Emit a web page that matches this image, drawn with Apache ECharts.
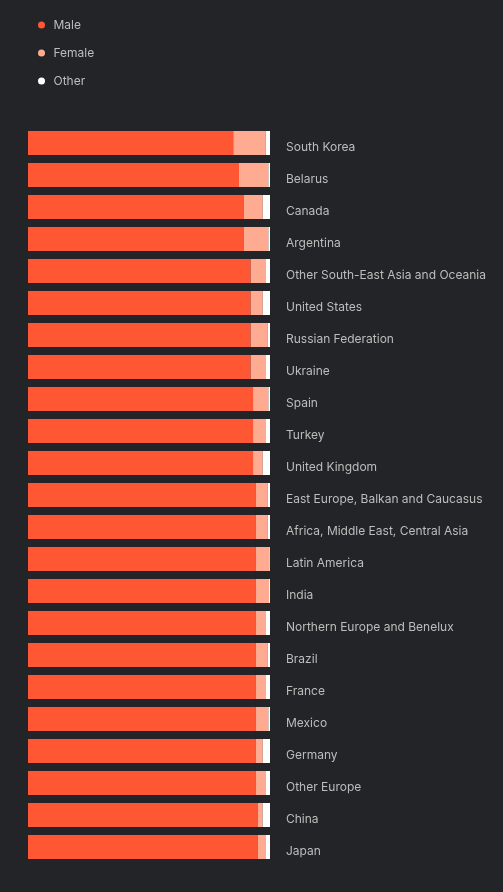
<!DOCTYPE html>
<html>
<head>
<meta charset="utf-8">
<script src="https://cdn.jsdelivr.net/npm/echarts@6/dist/echarts.min.js"></script>
<style>
html,body{margin:0;padding:0;background:#232427;}
#chart{width:503px;height:892px;}
</style>
</head>
<body>
<div id="chart"></div>
<script>
var categories = ["South Korea","Belarus","Canada","Argentina","Other South-East Asia and Oceania","United States","Russian Federation","Ukraine","Spain","Turkey","United Kingdom","East Europe, Balkan and Caucasus","Africa, Middle East, Central Asia","Latin America","India","Northern Europe and Benelux","Brazil","France","Mexico","Germany","Other Europe","China","Japan"];
var male   = [84.8,87.2,89.1,89.1,92.0,92.0,92.0,92.0,93.0,93.0,93.0,94.1,94.1,94.1,94.1,94.1,94.1,94.1,94.1,94.1,94.1,95.0,95.0];
var female = [13.4,12.1,7.9,10.2,6.1,5.0,7.0,6.1,6.3,5.1,4.0,4.9,4.9,5.6,5.5,4.0,4.9,4.0,5.2,2.9,4.0,2.0,3.1];
var other  = [1.8,0.7,3.0,0.7,1.9,3.0,1.0,1.9,0.7,1.9,3.0,1.0,1.0,0.3,0.4,1.9,1.0,1.9,0.7,3.0,1.9,3.0,1.9];

var chart = echarts.init(document.getElementById('chart'));
var font = 'Inter, "Noto Sans", sans-serif';
chart.setOption({
  backgroundColor: '#232427',
  animation: false,
  legend: {
    orient: 'vertical',
    left: 33,
    top: 14,
    itemWidth: 14,
    itemHeight: 7,
    itemGap: 16,
    icon: 'circle',
    textStyle: {color: '#bdbdbd', fontSize: 12, fontFamily: font},
    data: ['Male','Female','Other']
  },
  grid: {left: 28, right: 233, top: 127, height: 736},
  xAxis: {
    type: 'value', min: 0, max: 100, show: false
  },
  yAxis: {
    type: 'category',
    data: categories,
    inverse: true,
    position: 'right',
    axisLine: {show: false},
    axisTick: {show: false},
    axisLabel: {
      color: '#bdbdbd', fontSize: 12, margin: 16, fontFamily: font,
      formatter: function (v) { return '{a|' + v + '}'; },
      rich: {a: {color: '#bdbdbd', fontSize: 12, fontFamily: font, padding: [8, 0, 0, 0]}}
    }
  },
  series: [
    {name: 'Male', type: 'bar', stack: 'g', data: male, barCategoryGap: '25%', itemStyle: {color: '#ff5733'}},
    {name: 'Female', type: 'bar', stack: 'g', data: female, itemStyle: {color: '#ffab91'}},
    {name: 'Other', type: 'bar', stack: 'g', data: other, itemStyle: {color: '#ffffff'}}
  ]
});
</script>
</body>
</html>
